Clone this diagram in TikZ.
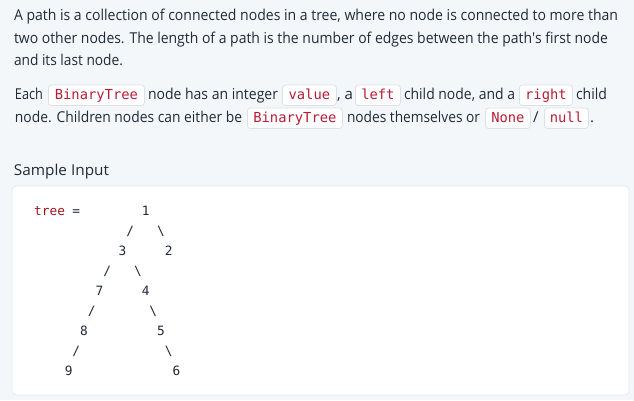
\documentclass[tikz,border=0pt]{standalone}
\usepackage{fontspec}
\usepackage{graphicx}
\setmainfont{Open Sans}
\newfontfamily\codefont{DejaVu Sans Mono}
\definecolor{pagebg}{RGB}{244,247,250}
\definecolor{bodytext}{RGB}{33,42,56}
\definecolor{codered}{RGB}{185,28,52}
\definecolor{treered}{RGB}{160,24,32}
\definecolor{codeborder}{RGB}{221,225,230}
\definecolor{panelborder}{RGB}{229,233,238}
\newcommand{\fitw}[2]{\resizebox{#1pt}{\height}{#2}}
\begin{document}
\begin{tikzpicture}[x=1pt,y=-1pt,
  txt/.style={anchor=base west, inner sep=0pt, outer sep=0pt, text=bodytext, font=\fontsize{15}{18}\selectfont},
  codebox/.style={draw=codeborder, fill=white, rounded corners=3pt, line width=0.8pt,
    inner xsep=0pt, inner ysep=0pt, text height=14pt, text depth=6.5pt, anchor=base west,
    text=codered, font=\codefont\fontsize{13.8}{16}\selectfont},
  treech/.style={anchor=base, inner sep=0pt, text=bodytext, font=\codefont\fontsize{12.8}{15}\selectfont},
]
\useasboundingbox (0,0) rectangle (634,400);
\fill[pagebg] (0,0) rectangle (634,400);

% paragraph 1
\node[txt] (p1a) at (14,20.5) {\fitw{604}{A path is a collection of connected nodes in a tree, where no node is connected to more than}};
\node[txt] (p1b) at (14,43) {\fitw{594}{two other nodes. The length of a path is the number of edges between the path\textquotesingle s first node}};
\node[txt] (p1c) at (14,65.5) {\fitw{109}{and its last node.}};

% paragraph 2, line 1
\node[txt] (p2a) at (15,99) {\fitw{28}{Each}};
\node[codebox, minimum width=96pt] (c1) at (48,99) {BinaryTree};
\node[txt] (p2b) at (148,99) {\fitw{130}{node has an integer}};
\node[codebox, minimum width=54pt] (c2) at (282,99) {value};
\node[txt] (p2c) at (337,99) {, a};
\node[codebox, minimum width=45pt] (c3) at (355,99) {left};
\node[txt] (p2d) at (404,99) {\fitw{111}{child node, and a}};
\node[codebox, minimum width=53pt] (c4) at (519,99) {right};
\node[txt] (p2e) at (576,99) {\fitw{31}{child}};

% paragraph 2, line 2
\node[txt] (p3a) at (15,122) {\fitw{227}{node. Children nodes can either be}};
\node[codebox, minimum width=95pt] (c5) at (247,122) {BinaryTree};
\node[txt] (p3b) at (347,122) {\fitw{133}{nodes themselves or}};
\node[codebox, minimum width=45pt] (c6) at (485,122) {None};
\node[txt] (p3c) at (533,122) {/};
\node[codebox, minimum width=44pt] (c7) at (544,122) {null};
\node[txt] (p3d) at (590,122) {.};

% heading
\node[txt] (hd) at (14,175) {\fitw{95}{Sample Input}};

% panel
\draw[draw=panelborder, fill=white, line width=0.8pt, rounded corners=4pt] (12,186) rectangle (629,395);

% tree (ASCII art)
\node[treech, anchor=base west] (lbl) at (34,215.5) {\textcolor{treered}{tree}};
\node[treech] (eq) at ({34+5.5*7.7},215.5) {=};
\node[treech] (n1) at ({34+14.5*7.7},215.5) {1};
\node[treech] (s1l) at ({34+12.5*7.7},235.5) {/};
\node[treech] (s1r) at ({34+16.5*7.7},235.5) {\textbackslash};
\node[treech] (n3) at ({34+11.5*7.7},255.5) {3};
\node[treech] (n2) at ({34+17.5*7.7},255.5) {2};
\node[treech] (s3l) at ({34+9.5*7.7},275.5) {/};
\node[treech] (s3r) at ({34+13.5*7.7},275.5) {\textbackslash};
\node[treech] (n7) at ({34+8.5*7.7},295.5) {7};
\node[treech] (n4) at ({34+14.5*7.7},295.5) {4};
\node[treech] (s7) at ({34+7.5*7.7},315.5) {/};
\node[treech] (s4) at ({34+15.5*7.7},315.5) {\textbackslash};
\node[treech] (n8) at ({34+6.5*7.7},335.5) {8};
\node[treech] (n5) at ({34+16.5*7.7},335.5) {5};
\node[treech] (s8) at ({34+5.5*7.7},355.5) {/};
\node[treech] (s5) at ({34+17.5*7.7},355.5) {\textbackslash};
\node[treech] (n9) at ({34+4.5*7.7},375.5) {9};
\node[treech] (n6) at ({34+18.5*7.7},375.5) {6};
\end{tikzpicture}
\end{document}
